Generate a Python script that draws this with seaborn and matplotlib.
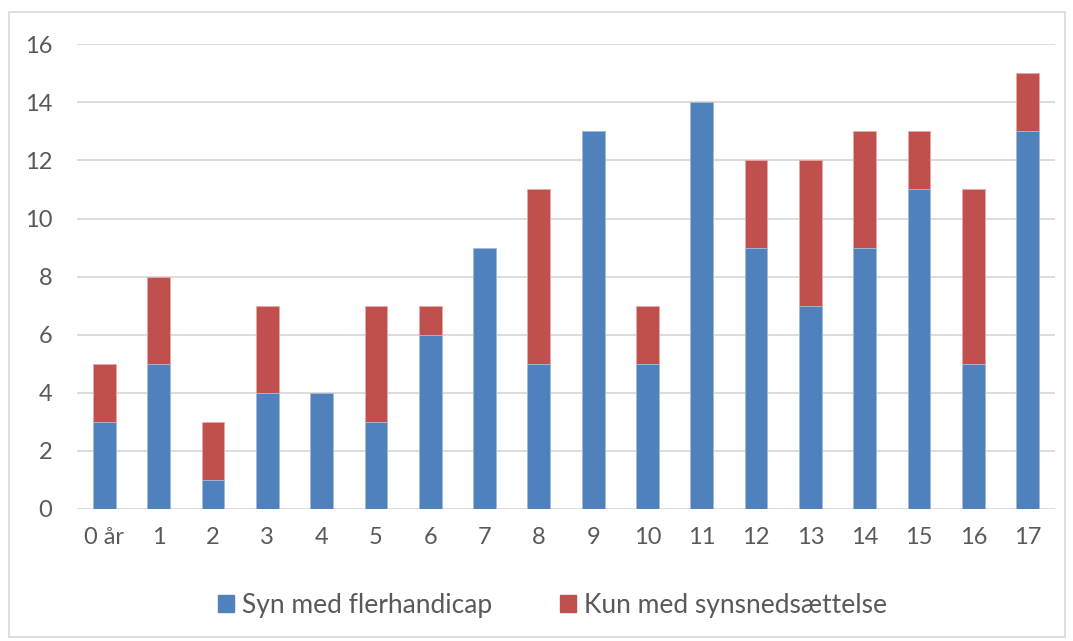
import pandas as pd
import matplotlib.pyplot as plt
import seaborn as sns
from matplotlib.patches import Patch, Rectangle

ages = ["0 år", "1", "2", "3", "4", "5", "6", "7", "8", "9",
        "10", "11", "12", "13", "14", "15", "16", "17"]
syn_flerhandicap = [3, 5, 1, 4, 4, 3, 6, 9, 5, 13, 5, 14, 9, 7, 9, 11, 5, 13]
kun_synsnedsaettelse = [2, 3, 2, 3, 0, 4, 1, 0, 6, 0, 2, 0, 3, 5, 4, 2, 6, 2]
y_ticks = [0, 2, 4, 6, 8, 10, 12, 14, 16]

BLUE = "#4F81BD"
RED = "#C0504D"
GRID = "#D9D9D9"
TEXT = "#595959"


def main():
    df = pd.DataFrame({
        "age": ages,
        "blue": syn_flerhandicap,
        "red": kun_synsnedsaettelse,
    })
    df["total"] = df["blue"] + df["red"]

    sns.set_style("white")
    plt.rcParams["font.family"] = ["Lato", "DejaVu Sans"]

    fig = plt.figure(figsize=(10.73, 6.41), dpi=100)
    ax = fig.add_axes([0.072, 0.206, 0.911, 0.725])

    # stacked: draw totals in red, then blue part on top of it
    sns.barplot(data=df, x="age", y="total", color=RED, width=0.42,
                saturation=1, edgecolor="#E8A9A7", linewidth=0.6, ax=ax, zorder=3)
    sns.barplot(data=df, x="age", y="blue", color=BLUE, width=0.42,
                saturation=1, edgecolor="#A9C0E0", linewidth=0.6, ax=ax, zorder=4)

    ax.set_ylim(0, 16)
    ax.set_xlim(-0.5, 17.5)
    ax.set_yticks(y_ticks)
    ax.set_yticklabels([str(t) for t in y_ticks])
    ax.yaxis.grid(True, color=GRID, linewidth=1.3, zorder=0)
    ax.set_axisbelow(True)
    for s in ax.spines.values():
        s.set_visible(False)
    ax.set_xlabel("")
    ax.set_ylabel("")
    ax.tick_params(axis="both", length=0, labelsize=17, colors=TEXT)
    ax.tick_params(axis="x", pad=13)
    ax.tick_params(axis="y", pad=18)

    handles = [Patch(color=BLUE, label="Syn med flerhandicap"),
               Patch(color=RED, label="Kun med synsnedsættelse")]
    fig.legend(handles=handles, loc="center", bbox_to_anchor=(0.515, 0.056),
               ncol=2, frameon=False, fontsize=19, labelcolor=TEXT,
               handlelength=0.6, handleheight=0.6, handletextpad=0.3,
               columnspacing=2.6)

    fig.patches.append(Rectangle((0.008, 0.006), 0.985, 0.975,
                                 transform=fig.transFigure, fill=False,
                                 edgecolor=GRID, linewidth=1.2))

    fig.savefig("out.png", dpi=100)
    plt.close(fig)


if __name__ == "__main__":
    main()
